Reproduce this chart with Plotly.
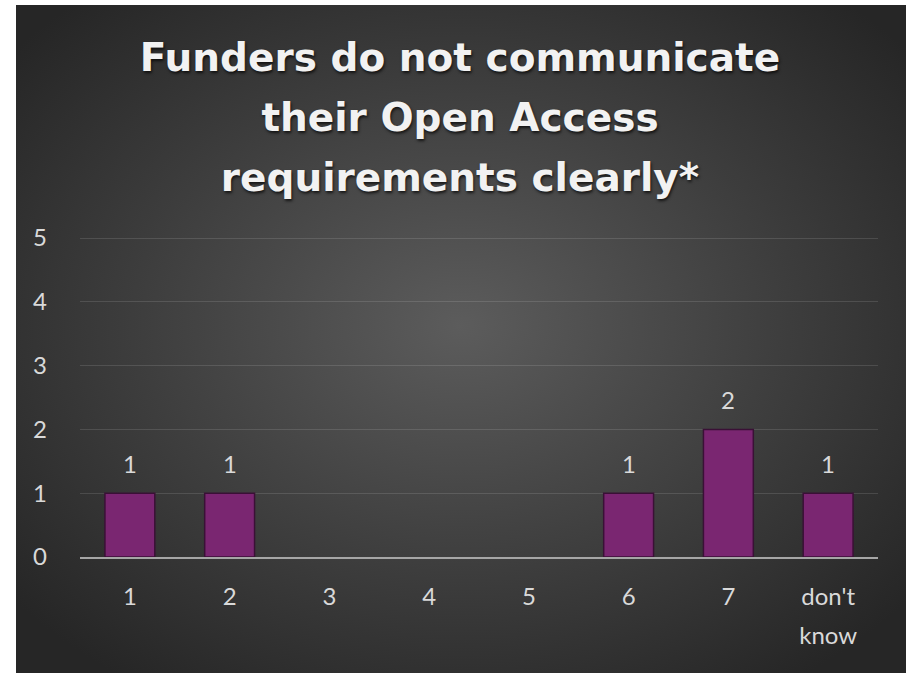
import base64
import plotly.graph_objects as go

categories = ["1", "2", "3", "4", "5", "6", "7", "don't<br>know"]
values = [1, 1, 0, 0, 0, 1, 2, 1]
y_ticks = [0, 1, 2, 3, 4, 5]
title_lines = ["Funders do not communicate", "their Open Access", "requirements clearly*"]

W, H = 906, 673
PX0, PX1, PY0, PY1 = 16, 906, 5, 673  # dark panel in pixels
Y_TOP = 5.05  # axis top, slightly above 5 so the 5 gridline is drawn

svg = (
    '<svg xmlns="http://www.w3.org/2000/svg" width="890" height="668" viewBox="0 0 890 668" preserveAspectRatio="none">'
    '<defs><radialGradient id="g" cx="50%" cy="48%" r="65%">'
    '<stop offset="0%" stop-color="#5c5c5c"/>'
    '<stop offset="55%" stop-color="#3e3e3e"/>'
    '<stop offset="100%" stop-color="#262626"/>'
    '</radialGradient></defs>'
    '<rect width="890" height="668" fill="url(#g)"/></svg>'
)
svg_uri = "data:image/svg+xml;base64," + base64.b64encode(svg.encode()).decode()

label_font = dict(family="Lato, Open Sans, sans-serif", size=24, color="#d9d9d9")
span = '<span style="font-size:24px">{}</span>'

fig = go.Figure()
fig.add_trace(go.Bar(
    x=list(range(len(categories))),
    y=values,
    marker=dict(color="#7a2671",
                line=dict(color="#3a1036", width=[1.5 if v > 0 else 0 for v in values])),
    width=0.5,
    hoverinfo="skip",
))

for i, v in enumerate(values):
    if v > 0:
        fig.add_annotation(x=i, y=v, text=str(v), showarrow=False,
                           xref="x", yref="y", yanchor="bottom", yshift=13,
                           font=label_font)

title_text = "<br>".join('<span style="font-size:39px">{}</span>'.format(t) for t in title_lines)

px_per_unit = (557 - 238) / 5
y_dom_top = (H - 557 + px_per_unit * Y_TOP) / H

fig.update_layout(
    width=W, height=H,
    margin=dict(l=0, r=0, t=0, b=0, autoexpand=False),
    paper_bgcolor="white",
    plot_bgcolor="rgba(0,0,0,0)",
    showlegend=False,
    title=dict(
        text=title_text,
        x=460 / W, xanchor="center", xref="paper",
        y=1 - 71 / H, yanchor="middle", yref="paper", automargin=False,
        font=dict(family="DejaVu Sans, sans-serif", size=46, color="#f2f2f2",
                  weight="bold", shadow="1px 2px 3px rgba(0,0,0,0.7)"),
    ),
    images=[dict(
        source=svg_uri, xref="paper", yref="paper",
        x=PX0 / W, y=1 - PY0 / H, sizex=(PX1 - PX0) / W, sizey=(PY1 - PY0) / H,
        xanchor="left", yanchor="top", sizing="stretch", layer="below",
    )],
    xaxis=dict(
        domain=[80 / W, 878 / W],
        range=[-0.5, len(categories) - 0.5],
        tickmode="array",
        tickvals=list(range(len(categories))),
        ticktext=[span.format(c.replace("<br>", "</span><br><span style=\"font-size:24px\">")) for c in categories],
        tickfont=dict(family="Lato, Open Sans, sans-serif", size=30, color="#d9d9d9"),
        showgrid=False, zeroline=False,
        showline=True, linecolor="#a6a6a6", linewidth=2,
        ticks="", ticklabelstandoff=10, automargin=False,
    ),
    yaxis=dict(
        domain=[(H - 557) / H, y_dom_top],
        range=[0, Y_TOP],
        tickmode="array", tickvals=y_ticks,
        tickfont=label_font,
        showgrid=True, gridcolor="rgba(255,255,255,0.12)", gridwidth=1,
        zeroline=False, showline=False,
        ticks="", ticklabelstandoff=32, automargin=False,
    ),
)

fig.write_html("out.html",
               config={"displayModeBar": False},
               post_script="document.body.style.margin='0';document.body.style.overflow='hidden';")
